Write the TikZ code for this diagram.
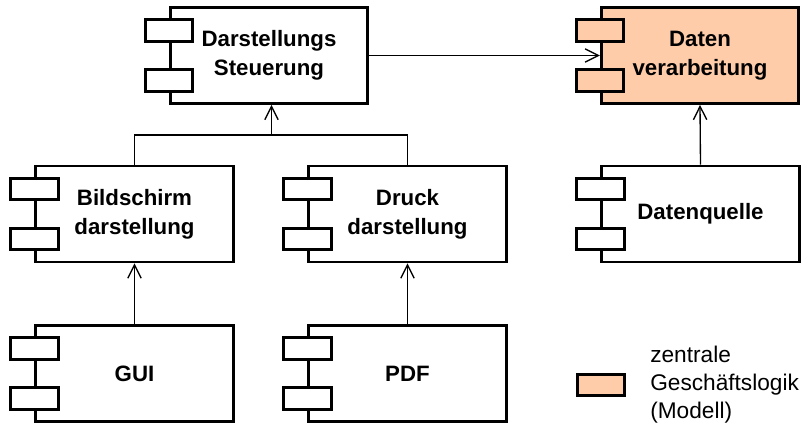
\documentclass[tikz,border=0pt]{standalone}
\usepackage{fontspec}
\setmainfont{Liberation Sans}
\usetikzlibrary{arrows.meta,calc}
\definecolor{peach}{RGB}{255,204,170}
\newcommand\comptabs[2]{%
  \node[tabbox,fill=#2] (#1tA) at ($(#1.west)+(0,-25)$) {};
  \node[tabbox,fill=#2] (#1tB) at ($(#1.west)+(0,25)$) {};}
\begin{document}
\begin{tikzpicture}[x=0.75pt,y=-0.75pt,
  comp/.style={draw, line width=2.1pt, fill=white, minimum width=148pt, minimum height=72pt,
    inner sep=0pt, align=center, font=\fontsize{16.7}{21.75}\selectfont\bfseries},
  tabbox/.style={draw, line width=2.1pt, minimum width=35.6pt, minimum height=16.2pt, inner sep=0pt},
  conn/.style={line width=1pt},
  arr/.style={conn, -{Straight Barb[length=10pt,width=10pt]}}]
\useasboundingbox (0,0) rectangle (804,424);
% components
\node[comp] (ds) at (269,55.5) {Darstellungs\\Steuerung};
\node[comp, fill=peach] (dv) at (700,55.5) {Daten\\verarbeitung};
\node[comp] (bs) at (134.5,214) {Bildschirm\\darstellung};
\node[comp] (dr) at (407.5,214) {Druck\\darstellung};
\node[comp] (dq) at (700.5,214) {Datenquelle};
\node[comp] (gui) at (134.5,373.5) {GUI};
\node[comp] (pdf) at (407.5,373.5) {PDF};
% connectors
\coordinate (bar) at (271.5,135);
\draw[arr] (ds.east) -- (dv.west);
\draw[arr] (dq.north) -- (dv.south);
\draw[conn] (bs.north) -- (bs.north |- bar) -- (dr.north |- bar) -- (dr.north);
\draw[arr] (bar) -- (bar |- ds.south);
\draw[arr] (gui.north) -- (bs.south);
\draw[arr] (pdf.north) -- (dr.south);
% tabs
\comptabs{ds}{white}
\comptabs{dv}{peach}
\comptabs{bs}{white}
\comptabs{dr}{white}
\comptabs{dq}{white}
\comptabs{gui}{white}
\comptabs{pdf}{white}
% legend
\node[tabbox, fill=peach] (legbox) at (601,385) {};
\node[anchor=west, align=left, inner sep=0pt, font=\fontsize{17}{21}\selectfont] (legtext) at (650,385) {zentrale\\Geschäftslogik\\(Modell)};
\end{tikzpicture}
\end{document}
